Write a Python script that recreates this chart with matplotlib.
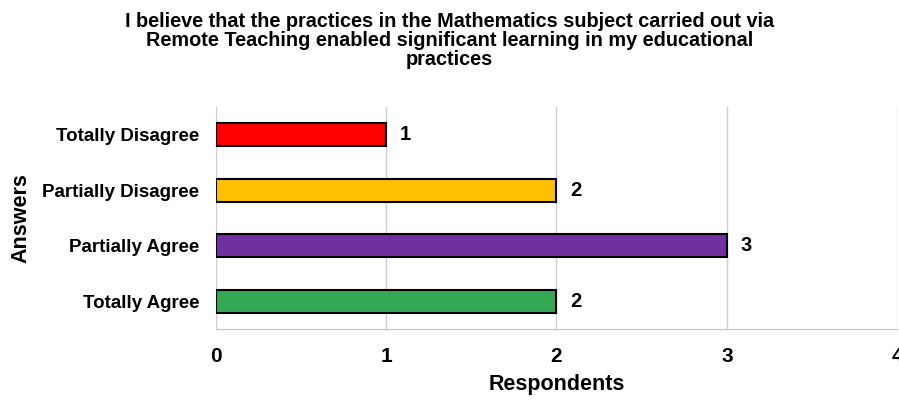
import matplotlib.pyplot as plt

plt.rcParams['font.family'] = ['Liberation Sans', 'DejaVu Sans']

answers = ['Totally Disagree', 'Partially Disagree', 'Partially Agree', 'Totally Agree']
respondents = [1, 2, 3, 2]
colors = ['#FF0000', '#FFC000', '#7030A0', '#34A853']

fig = plt.figure(figsize=(8.99, 4.0), dpi=100)
ax = fig.add_axes([0.240, 0.1775, 0.758, 0.555])

ypos = list(range(len(answers)))
bars = ax.barh(ypos, respondents, height=0.42, color=colors,
               edgecolor='black', linewidth=1.5, zorder=3)

# value labels to the right of each bar
for y, v in zip(ypos, respondents):
    ax.text(v + 0.08, y, str(v), va='center', ha='left',
            fontsize=14.5, fontweight='bold')

ax.set_yticks(ypos)
ax.set_yticklabels(answers, fontsize=13.5, fontweight='bold')
ax.set_ylim(3.5, -0.5)
ax.set_xlim(0, 4)
ax.set_xticks([0, 1, 2, 3, 4])
ax.set_xticklabels(['0', '1', '2', '3', '4'], fontsize=15, fontweight='bold')
ax.tick_params(axis='both', length=0)
ax.tick_params(axis='x', pad=13)
ax.tick_params(axis='y', pad=12)

ax.grid(axis='x', color='#D0D0D0', linewidth=1, zorder=0)
for side in ['top', 'right', 'left']:
    ax.spines[side].set_visible(False)
ax.spines['bottom'].set_color('#C0C0C0')

ax.set_xlabel('Respondents', fontsize=15.5, fontweight='bold', labelpad=6)
ax.set_ylabel('Answers', fontsize=15.5, fontweight='bold', labelpad=8)

fig.text(0.5, 0.97,
         'I believe that the practices in the Mathematics subject carried out via\n'
         'Remote Teaching enabled significant learning in my educational\n'
         'practices',
         ha='center', va='top', fontsize=14.3, fontweight='bold', linespacing=1.0)

fig.savefig('out.png', dpi=100)
